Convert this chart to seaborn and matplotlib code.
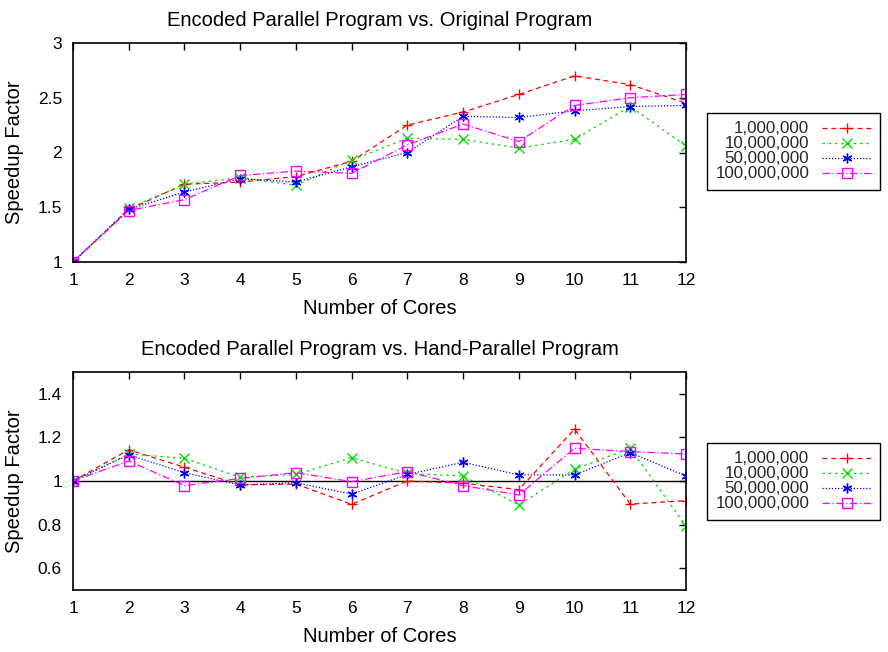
import matplotlib
matplotlib.use("Agg")
import matplotlib.pyplot as plt
import seaborn as sns
import pandas as pd
from matplotlib.ticker import FuncFormatter

cores = [1, 2, 3, 4, 5, 6, 7, 8, 9, 10, 11, 12]
series_names = ["1,000,000", "10,000,000", "50,000,000", "100,000,000"]

orig_1m = [1.0, 1.48, 1.71, 1.73, 1.78, 1.92, 2.25, 2.37, 2.53, 2.70, 2.62, 2.45]
orig_10m = [1.0, 1.49, 1.71, 1.77, 1.70, 1.93, 2.13, 2.12, 2.04, 2.12, 2.42, 2.06]
orig_50m = [1.0, 1.48, 1.64, 1.76, 1.73, 1.87, 2.00, 2.33, 2.32, 2.38, 2.42, 2.43]
orig_100m = [1.0, 1.47, 1.57, 1.79, 1.83, 1.81, 2.07, 2.26, 2.10, 2.43, 2.50, 2.53]

hand_1m = [1.0, 1.143, 1.063, 0.982, 0.986, 0.893, 1.0, 0.99, 0.96, 1.238, 0.894, 0.91]
hand_10m = [1.0, 1.124, 1.104, 1.017, 1.03, 1.107, 1.035, 1.023, 0.89, 1.054, 1.15, 0.793]
hand_50m = [1.0, 1.12, 1.038, 0.982, 0.992, 0.94, 1.03, 1.086, 1.028, 1.028, 1.13, 1.023]
hand_100m = [1.0, 1.092, 0.979, 1.012, 1.038, 0.997, 1.043, 0.979, 0.936, 1.15, 1.135, 1.124]

top_title = "Encoded Parallel Program vs. Original Program"
bottom_title = "Encoded Parallel Program vs. Hand-Parallel Program"
xlabel = "Number of Cores"
ylabel = "Speedup Factor"

sns.set_theme(style="white")
plt.rcParams['font.family'] = ['Liberation Sans', 'DejaVu Sans']

colors = ["#ff0000", "#00dd00", "#0000ff", "#ff00ff"]
dashes = [(4, 3), (2, 3), (1, 1.5), (6, 2, 1, 2)]
markers = ["+", "x", (6, 2, 0), "s"]

fig = plt.figure(figsize=(8.88, 6.52), dpi=100)
W, H = 888, 652
ax1 = fig.add_axes([73 / W, 1 - 262 / H, (686 - 73) / W, (262 - 43) / H])
ax2 = fig.add_axes([73 / W, 1 - 590 / H, (686 - 73) / W, (590 - 372) / H])


def draw(ax, data, ylim, yticks, title, legend_y):
    for name, vals, c, d, m in zip(series_names, data, colors, dashes, markers):
        df = pd.DataFrame({"cores": cores, "speedup": vals})
        kw = dict(markerfacecolor="none") if m == "s" else {}
        sns.lineplot(data=df, x="cores", y="speedup", ax=ax, color=c, linewidth=0.9,
                     marker=m, markersize=7.5 if m == "s" else 7, markeredgewidth=1.0,
                     markeredgecolor=c, label=name, **kw)
        ax.lines[-1].set_dashes(d)
    ax.set_xlim(1, 12)
    ax.set_ylim(*ylim)
    ax.set_xticks(cores)
    ax.set_yticks(yticks)
    ax.yaxis.set_major_formatter(FuncFormatter(lambda v, p: f"{v:g}"))
    ax.tick_params(direction="in", length=5, width=1, top=True, right=True,
                   labelsize=12.5, colors="black", pad=8)
    ax.tick_params(axis="x", pad=8)
    for s in ax.spines.values():
        s.set_color("black")
        s.set_linewidth(1.2)
    ax.set_title(title, fontsize=14.5, pad=12, color="black")
    ax.set_xlabel(xlabel, fontsize=14.5, labelpad=8, color="black")
    ax.set_ylabel(ylabel, fontsize=14.5, labelpad=10, color="black")
    leg = ax.legend(loc="upper left", bbox_to_anchor=(707 / W, 1 - legend_y / H),
                    bbox_transform=fig.transFigure, markerfirst=False, frameon=True,
                    fancybox=False, edgecolor="black", fontsize=12.2, handlelength=2.9,
                    borderpad=0.5, labelspacing=0.0, handletextpad=0.75,
                    borderaxespad=0, framealpha=1)
    leg.get_frame().set_linewidth(1.0)
    for t in leg.get_texts():
        t.set_ha("right")
    leg._legend_box.align = "right"


draw(ax1, [orig_1m, orig_10m, orig_50m, orig_100m], (1, 3), [1, 1.5, 2, 2.5, 3], top_title, 113)
draw(ax2, [hand_1m, hand_10m, hand_50m, hand_100m], (0.5, 1.5), [0.6, 0.8, 1, 1.2, 1.4], bottom_title, 443)
ax2.axhline(1.0, color="black", linewidth=1.0, zorder=1)

fig.savefig("out.png", dpi=100)
